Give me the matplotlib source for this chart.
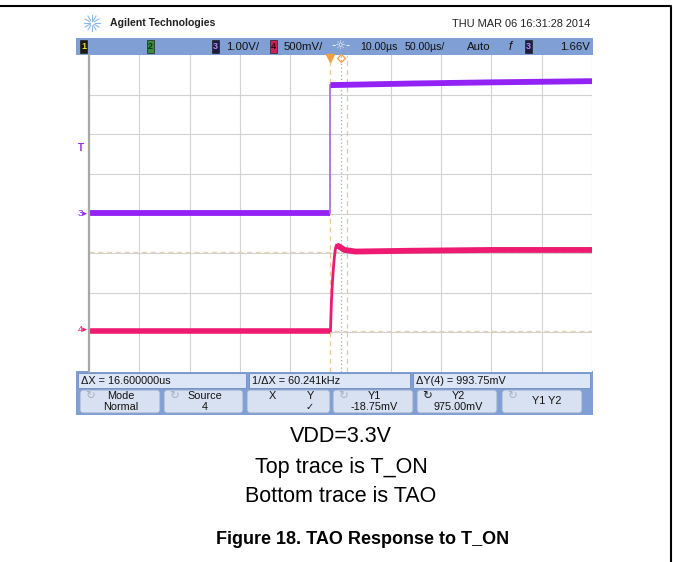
import numpy as np
import matplotlib.pyplot as plt
from matplotlib.patches import Rectangle, FancyBboxPatch
from matplotlib import transforms

plt.rcParams['font.family'] = ['Liberation Sans', 'DejaVu Sans']

# ---- trace data (volts vs microseconds) ----
ch3_low_t = [-240, 0]
ch3_low_v = [0.01, 0.01]
ch3_high_t = [0, 80, 160, 260]
ch3_high_v = [3.24, 3.28, 3.31, 3.34]

ch4_low_t = [-240, 0]
ch4_low_v = [-0.02, -0.02]
ch4_rise_t = [0, 1, 2, 3, 4, 5, 6]
ch4_rise_v = [-0.02, 0.35, 0.6, 0.78, 0.92, 1.02, 1.06]
ch4_high_t = [6, 9, 14, 25, 80, 160, 260]
ch4_high_v = [1.06, 1.04, 1.0, 0.98, 0.99, 1.0, 1.0]

# scope settings
ch3_scale, ch3_pos = 1.0, 0.0      # V/div, ground position in div
ch4_scale, ch4_pos = 0.5, -2.92
time_delay = 10.0                  # us at screen center
time_div = 50.0                    # us/div
trig_level = 1.66                  # V on ch3
cursor_x = [0.0, 16.6]             # us
cursor_y = [-0.01875, 0.975]       # V on ch4

header_text = 'Agilent Technologies'
date_text = 'THU MAR 06 16:31:28 2014'
meas_labels = ['\u0394X = 16.600000us', '1/\u0394X = 60.241kHz', '\u0394Y(4) = 993.75mV']
soft_keys = [('Mode', 'Normal'), ('Source', '4'), ('X', 'Y'), ('Y1', '-18.75mV'),
             ('Y2', '975.00mV'), ('Y1 Y2', '')]
caption_lines = ['VDD=3.3V', 'Top trace is T_ON', 'Bottom trace is TAO']
fig_title = 'Figure 18. TAO Response to T_ON'

PURPLE = '#9322f5'
PINK = '#ee1a72'
BAR = '#809fd4'

W, H = 673, 562
fig = plt.figure(figsize=(W / 100, H / 100), dpi=100)


def fr(x0, y0, x1, y1):
    return [x0 / W, 1 - y1 / H, (x1 - x0) / W, (y1 - y0) / H]


# background canvas in pixel units
ax0 = fig.add_axes([0, 0, 1, 1])
ax0.set_xlim(0, W)
ax0.set_ylim(H, 0)
ax0.axis('off')

# page frame
ax0.plot([0, 671, 671], [6, 6, H], color='black', lw=1.5)

# header
for a in np.linspace(0, 2 * np.pi, 12, endpoint=False):
    ax0.plot([92 + 2.5 * np.cos(a), 92 + 8 * np.cos(a)],
             [23 + 2.5 * np.sin(a), 23 + 8 * np.sin(a)], color='#8ab8e6', lw=0.8)
ax0.text(110, 23, header_text, fontsize=7.6, fontweight='bold', va='center', color='#222222')
ax0.text(590, 24, date_text, fontsize=7.9, ha='right', va='center', color='#222222')

# channel bar
ax0.add_patch(Rectangle((76, 38), 517, 17, fc=BAR, ec='none'))
for num, x, fc, tc in [('1', 80, '#1a1a10', '#e6e040'), ('2', 147, '#3c8a3c', '#10300f'),
                       ('3', 212, '#1c1c40', '#b88cff'), ('4', 270, '#d0205a', '#3a0010'),
                       ('3', 525, '#1c1c40', '#b88cff')]:
    ax0.add_patch(Rectangle((x, 40), 7, 13, fc=fc, ec='#222222', lw=0.5))
    ax0.text(x + 3.5, 46.5, num, fontsize=6.5, fontweight='bold', ha='center', va='center', color=tc)
for txt, x, fs in [('1.00V/', 226, 8.2), ('500mV/', 284, 8.2), ('10.00\u00b5s', 360, 7.6),
                   ('50.00\u00b5s/', 405, 7.6), ('Auto', 467, 8.2)]:
    ax0.text(x, 46.5, txt, fontsize=fs, va='center', color='#111111')
ax0.text(341, 46.5, '-\u263c-', fontsize=8.5, ha='center', va='center', color='#f4f4f4',
         family='DejaVu Sans')
ax0.text(510, 46.5, 'f', fontsize=8.5, ha='center', va='center', style='italic', color='#111111')
ax0.text(590, 46.5, '1.66V', fontsize=8.2, ha='right', va='center', color='#111111')

# ---- scope graticule ----
sc = fig.add_axes(fr(89, 55, 592, 372))
x_lo = time_delay - 5 * time_div
x_hi = time_delay + 5 * time_div
sc.set_xlim(x_lo, x_hi)
sc.set_ylim(-4, 4)
sc.set_xticks([])
sc.set_yticks([])
for s in ['top', 'right', 'bottom']:
    sc.spines[s].set_visible(False)
sc.spines['left'].set_color('#a8a8a8')
sc.spines['left'].set_linewidth(1.6)
for k in range(1, 10):
    xv = x_lo + k * time_div
    if k == 5:
        sc.axvline(xv, color='#9aa8e0', lw=0.9, ls=(0, (1, 2)))
    else:
        sc.axvline(xv, color='#d2d2d2', lw=0.8)
for k in range(-3, 4):
    sc.axhline(k, color='#d2d2d2', lw=0.8)
sc.axvline(x_hi, color='#d2d2d2', lw=0.8)

# cursors
for cx in cursor_x:
    sc.axvline(cx, color='#ecc890', lw=0.9, ls=(0, (4, 3)))
for cy in cursor_y:
    sc.axhline(cy / ch4_scale + ch4_pos, color='#e2d2b0', lw=0.9, ls=(0, (4, 3)))


def d3(v):
    return np.asarray(v) / ch3_scale + ch3_pos


def d4(v):
    return np.asarray(v) / ch4_scale + ch4_pos


# channel 3 (T_ON)
sc.plot(ch3_low_t, d3(ch3_low_v), color=PURPLE, lw=4.2, solid_capstyle='butt')
sc.plot([ch3_low_t[-1], ch3_high_t[0]], d3([ch3_low_v[-1], ch3_high_v[0]]),
        color='#b070f0', lw=1.3)
sc.plot(ch3_high_t, d3(ch3_high_v), color=PURPLE, lw=4.2, solid_capstyle='butt')

# channel 4 (TAO)
sc.plot(ch4_low_t, d4(ch4_low_v), color=PINK, lw=4.0, solid_capstyle='butt')
sc.plot(ch4_rise_t, d4(ch4_rise_v), color=PINK, lw=2.0)
sc.plot(ch4_high_t, d4(ch4_high_v), color=PINK, lw=4.2, solid_capstyle='butt')

# trigger / time markers on top edge
sc.plot([0], [3.93], marker='v', ms=6, color='#f0a040', clip_on=False)
sc.plot([time_delay], [3.93], marker='D', ms=4, mfc='none', mec='#f0a040', mew=0.9, clip_on=False)

# ground / trigger level markers in the left margin
lm = transforms.blended_transform_factory(sc.transAxes, sc.transData)
sc.text(-0.002, ch3_pos, '3\u25b8', transform=lm, ha='right', va='center', fontsize=6.8,
        color=PURPLE, clip_on=False)
sc.text(-0.002, ch4_pos, '4\u25b8', transform=lm, ha='right', va='center', fontsize=6.8,
        color=PINK, clip_on=False)
sc.text(-0.01, trig_level / ch3_scale + ch3_pos, 'T', transform=lm, ha='right', va='center',
        fontsize=7, fontweight='bold', color=PURPLE, clip_on=False)

# ---- measurement / soft-key bar ----
ax0.add_patch(Rectangle((76, 371), 517, 44, fc=BAR, ec='none'))
for lab, (x0, x1) in zip(meas_labels, [(78, 246), (249, 410), (413, 590)]):
    ax0.add_patch(Rectangle((x0, 373), x1 - x0, 15, fc='#dde6f6', ec='#6f8cc0', lw=0.6))
    ax0.text(x0 + 3, 381, lab, fontsize=7.8, va='center', color='#111111')

key_pos = [(80, 160), (164, 243), (247, 330), (333, 413), (417, 497), (502, 582)]
for i, ((top, bot), (x0, x1)) in enumerate(zip(soft_keys, key_pos)):
    ax0.add_patch(FancyBboxPatch((x0, 390), x1 - x0, 23,
                                 boxstyle='round,pad=0,rounding_size=3',
                                 fc='#d8e1f1', ec='#94a8cc', lw=0.7))
    if i == 2:
        ax0.text(x0 + 25, 396, top, fontsize=7.8, ha='center', va='center', color='#111111')
        ax0.text(x0 + 63, 396, bot, fontsize=7.8, ha='center', va='center', color='#111111')
        ax0.text(x0 + 63, 407, '\u2713', fontsize=7, ha='center', va='center',
                 color='#111111', family='DejaVu Sans')
        continue
    icon_col = '#222222' if i == 4 else '#a8b2c4'
    ax0.text(x0 + 10, 396, '\u21bb', fontsize=8.5, ha='center', va='center', color=icon_col,
             family='DejaVu Sans')
    cx = (x0 + x1) / 2 + 1
    if bot:
        ax0.text(cx, 396, top, fontsize=7.8, ha='center', va='center', color='#111111')
        ax0.text(cx, 406.5, bot, fontsize=7.8, ha='center', va='center', color='#111111')
    else:
        ax0.text(cx + 4, 401, top, fontsize=7.8, ha='center', va='center', color='#111111')

# ---- caption ----
for txt, y in zip(caption_lines, [437, 467, 496]):
    ax0.text(341, y, txt, fontsize=15.5, ha='center', va='center', color='black')
ax0.text(363, 540, fig_title, fontsize=13, fontweight='bold', ha='center', va='center',
         color='black')

fig.savefig('out.png', dpi=100)
